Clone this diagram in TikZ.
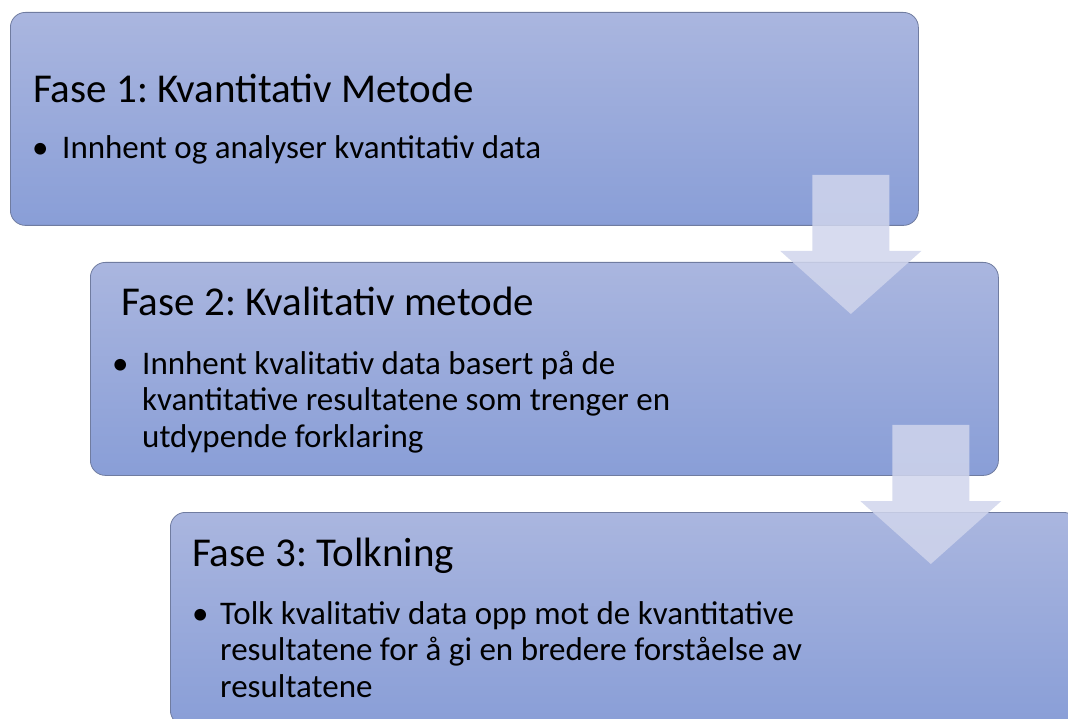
\documentclass[tikz,border=0pt]{standalone}
\usepackage{fontspec}
\setmainfont{Carlito}
\frenchspacing
\usetikzlibrary{calc,positioning}

\definecolor{phasetop}{RGB}{170,182,223}
\definecolor{phasebot}{RGB}{137,158,215}
\definecolor{phaseline}{RGB}{112,124,160}
\definecolor{arrowfill}{RGB}{208,213,236}

\begin{document}
\begin{tikzpicture}[x=1pt,y=-1pt,
    phase/.style={draw=phaseline,line width=.8pt,rounded corners=15pt,top color=phasetop,bottom color=phasebot,
      minimum width=908pt,minimum height=213pt,inner sep=0pt,anchor=north west},
    phasetitle/.style={inner sep=0pt,anchor=base west,font=\fontsize{41}{49}\selectfont},
    phaseitem/.style={inner sep=0pt,anchor=base west,align=left,font=\fontsize{33}{36.5}\selectfont},
    blockarrow/.style={fill=arrowfill,fill opacity=.85,draw=none}]

  %%%% frame of the slide %%%%
  \useasboundingbox (0,0) rectangle (1068,719);
  \clip (0,0) rectangle (1068,719);

  %% the three phases
  \node[phase] (fase1) at (10,12) {};
  \node[phase] (fase2) at (90,262) {};
  \node[phase] (fase3) at (170,512) {};

  %% block arrows between the phases
  \foreach \a/\b in {fase1/fase2,fase2/fase3}{
    \coordinate (top-\a) at ($(\a.south east)+(-68,-51)$);
    \coordinate (tip-\a) at ($(top-\a |- \b.north)+(0,52)$);
    \fill[blockarrow] ($(top-\a)+(-38.5,0)$) -- ($(top-\a)+(38.5,0)$)
      -- ($(tip-\a)+(38.5,-63)$) -- ($(tip-\a)+(70.5,-63)$) -- (tip-\a)
      -- ($(tip-\a)+(-70.5,-63)$) -- ($(tip-\a)+(-38.5,-63)$) -- cycle;
  }

  %% Fase 1
  \node[phasetitle] (title1) at ($(fase1.north west)+(23,91)$) {Fase 1: Kvantitativ Metode};
  \node[phaseitem] (dot1) at ($(fase1.north west)+(22,147)$) {•};
  \node[phaseitem] (text1) at ($(dot1.base west)+(30,0)$) {Innhent og analyser kvantitativ data};

  %% Fase 2 (base of a wrapped item is its last line)
  \node[phasetitle] (title2) at ($(fase2.north west)+(31,54)$) {Fase 2: Kvalitativ metode};
  \node[phaseitem] (dot2) at ($(fase2.north west)+(22,112)$) {•};
  \node[phaseitem] (text2) at ($(dot2.base west)+(30,73)$)
    {Innhent kvalitativ data basert på de\\kvantitative resultatene som trenger en\\utdypende forklaring};

  %% Fase 3
  \node[phasetitle] (title3) at ($(fase3.north west)+(22,54)$) {Fase 3: Tolkning};
  \node[phaseitem] (dot3) at ($(fase3.north west)+(22,112)$) {•};
  \node[phaseitem] (text3) at ($(dot3.base west)+(28,73)$)
    {Tolk kvalitativ data opp mot de kvantitative\\resultatene for å gi en bredere forståelse av\\resultatene};

\end{tikzpicture}
\end{document}
